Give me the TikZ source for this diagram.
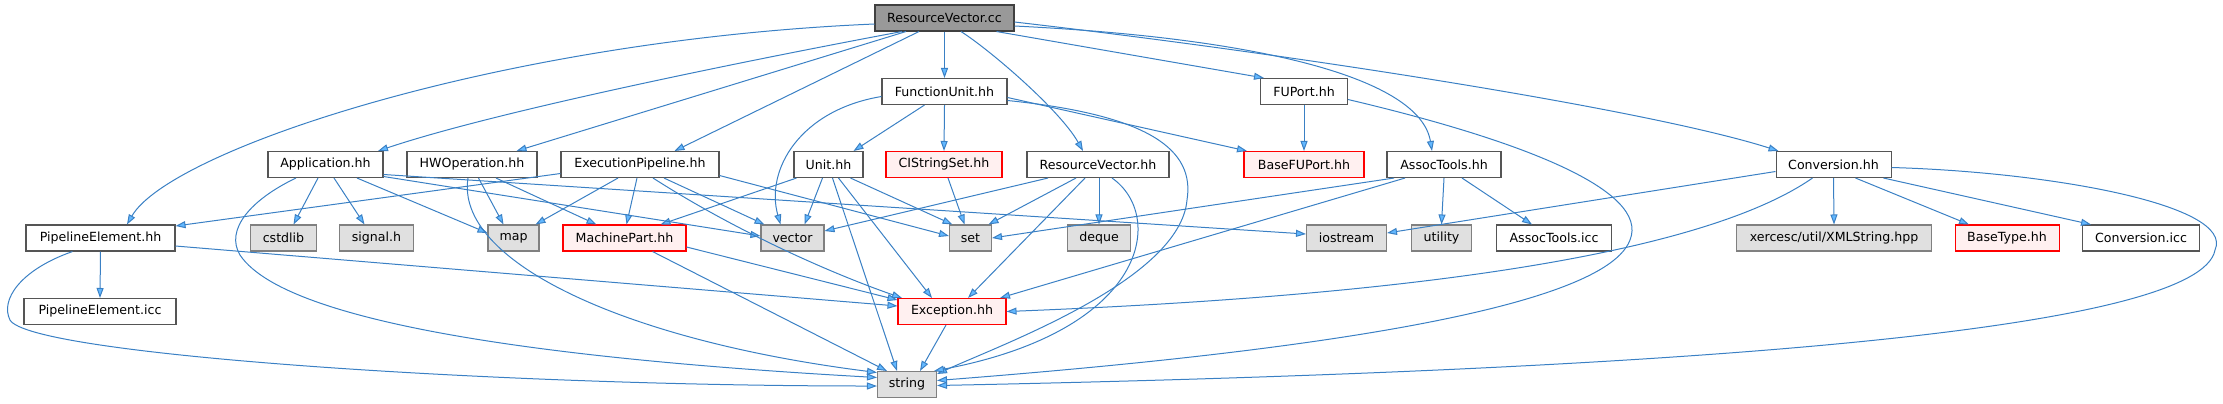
\documentclass[tikz,border=0pt]{standalone}
\usepackage{fontspec}
\setmainfont{DejaVu Sans}
\usetikzlibrary{arrows.meta}
\definecolor{edgec}{HTML}{3A80C4}
\definecolor{arrf}{HTML}{63B8FF}
\definecolor{nbord}{HTML}{555555}
\definecolor{sysfill}{HTML}{E0E0E0}
\definecolor{sysbord}{HTML}{808080}
\definecolor{redfill}{HTML}{FFF0F0}
\definecolor{rootfill}{HTML}{999999}
\definecolor{rootbord}{HTML}{404040}
\tikzset{
 box/.style={draw=nbord, fill=white, line width=1.05bp, minimum height=26bp, inner sep=0pt, font=\fontsize{12.6bp}{15bp}\selectfont, text=black},
 rootbox/.style={box, fill=rootfill, draw=rootbord},
 sysbox/.style={box, fill=sysfill, draw=sysbord},
 redbox/.style={box, fill=redfill, draw=red},
 dep/.style={draw=edgec, line width=1bp, -{Triangle[length=10bp,width=7bp,fill=arrf]}},
}
\begin{document}
\begin{tikzpicture}[x=1bp,y=-1bp]
\useasboundingbox (0,0) rectangle (2223,403);
% row 0
\node[rootbox, minimum width=139bp] (rvcc) at (944.5,18) {ResourceVector.cc};
% row 1
\node[box, minimum width=125bp] (fu) at (944.5,91.5) {FunctionUnit.hh};
\node[box, minimum width=87bp] (fuport) at (1304,91.5) {FUPort.hh};
% row 2
\node[box, minimum width=115bp] (app) at (325.5,164.5) {Application.hh};
\node[box, minimum width=130bp] (hwop) at (472,164.5) {HWOperation.hh};
\node[box, minimum width=158bp] (exp) at (640,164.5) {ExecutionPipeline.hh};
\node[box, minimum width=69bp] (unit) at (828.5,164.5) {Unit.hh};
\node[redbox, minimum width=116bp] (cis) at (944,164.5) {CIStringSet.hh};
\node[box, minimum width=142bp] (rvhh) at (1098,164.5) {ResourceVector.hh};
\node[redbox, minimum width=120bp] (bfup) at (1304,164.5) {BaseFUPort.hh};
\node[box, minimum width=114bp] (assoc) at (1444,164.5) {AssocTools.hh};
\node[box, minimum width=115bp] (conv) at (1833.5,164.5) {Conversion.hh};
% row 3
\node[box, minimum width=149bp] (pe) at (100.5,238) {PipelineElement.hh};
\node[sysbox, minimum width=65.5bp] (cstd) at (283.5,238) {cstdlib};
\node[sysbox, minimum width=74bp] (sig) at (376.5,238) {signal.h};
\node[sysbox, minimum width=51bp] (map) at (513.5,238) {map};
\node[redbox, minimum width=123bp] (mp) at (624.5,238) {MachinePart.hh};
\node[sysbox, minimum width=63bp] (vec) at (792.5,238) {vector};
\node[sysbox, minimum width=42bp] (set) at (970.5,238) {set};
\node[sysbox, minimum width=63.5bp] (deque) at (1099,238) {deque};
\node[sysbox, minimum width=80bp] (ios) at (1346.5,238) {iostream};
\node[sysbox, minimum width=60bp] (util) at (1441.5,238) {utility};
\node[box, minimum width=114.5bp] (aicc) at (1554,238) {AssocTools.icc};
\node[sysbox, minimum width=195bp] (xml) at (1834,238) {xercesc/util/XMLString.hpp};
\node[redbox, minimum width=104bp] (btype) at (2007,238) {BaseType.hh};
\node[box, minimum width=117.5bp] (cicc) at (2141,238) {Conversion.icc};
% row 4
\node[box, minimum width=152bp] (peicc) at (100,311.5) {PipelineElement.icc};
\node[redbox, minimum width=108bp] (exc) at (952,311.5) {Exception.hh};
% row 5
\node[sysbox, minimum width=59bp] (str) at (907,384.5) {string};

% ResourceVector.cc
\draw[dep] ([yshift=-6bp]rvcc.west) .. controls (500,40) and (170,150) .. ([xshift=26.5bp]pe.north);
\draw[dep] ([xshift=-42.5bp]rvcc.south) .. controls (760,58) and (500,110) .. ([xshift=52.5bp]app.north);
\draw[dep] ([xshift=-38.5bp]rvcc.south) -- ([xshift=44.5bp]hwop.north);
\draw[dep] ([xshift=-25.5bp]rvcc.south) -- ([xshift=34.5bp]exp.north);
\draw[dep] (rvcc.south) -- (fu.north);
\draw[dep] ([xshift=16.5bp]rvcc.south) .. controls (990,50) and (1060,110) .. ([xshift=-15bp]rvhh.north);
\draw[dep] ([xshift=52bp]rvcc.south) -- ([xshift=-40bp]fuport.north);
\draw[dep] ([yshift=-8bp]rvcc.east) .. controls (1260,38) and (1420,78) .. ([xshift=-12bp]assoc.north);
\draw[dep] ([yshift=-4bp]rvcc.east) .. controls (1300,55) and (1650,110) .. ([xshift=-55bp]conv.north);
% FunctionUnit.hh
\draw[dep] ([xshift=-20bp]fu.south) -- ([xshift=25bp]unit.north);
\draw[dep] (fu.south) -- (cis.north);
\draw[dep] ([yshift=-6bp]fu.east) -- ([xshift=-57bp]bfup.north);
\draw[dep] ([yshift=-9bp]fu.east) .. controls (1150,115) and (1195,150) .. (1187,200) .. controls (1180,280) and (1000,345) .. ([yshift=10.5bp]str.east);
\draw[dep] ([yshift=-5bp]fu.west) .. controls (800,110) and (765,170) .. ([xshift=-12bp]vec.north);
% FUPort.hh
\draw[dep] (fuport.south) -- (bfup.north);
\draw[dep] ([yshift=-8bp]fuport.east) .. controls (1520,140) and (1650,190) .. (1630,240) .. controls (1600,320) and (1200,360) .. ([yshift=4bp]str.east);
% Unit.hh
\draw[dep] ([xshift=-32bp]unit.south) -- ([xshift=36bp]mp.north);
\draw[dep] ([xshift=-6bp]unit.south) -- ([xshift=12bp]vec.north);
\draw[dep] ([xshift=22bp]unit.south) -- ([xshift=-18bp]set.north);
\draw[dep] ([xshift=10bp]unit.south) -- ([xshift=-20bp]exc.north);
\draw[dep] ([xshift=4bp]unit.south) -- ([xshift=-10bp]str.north);
% CIStringSet.hh
\draw[dep] ([xshift=4bp]cis.south) -- ([xshift=-6bp]set.north);
% ResourceVector.hh
\draw[dep] ([xshift=-50bp]rvhh.south) -- ([yshift=7bp]vec.east);
\draw[dep] ([xshift=-22bp]rvhh.south) -- ([xshift=18bp]set.north);
\draw[dep] ([xshift=1bp]rvhh.south) -- (deque.north);
\draw[dep] ([xshift=-13bp]rvhh.south) -- ([xshift=16bp]exc.north);
\draw[dep] ([xshift=14bp]rvhh.south) .. controls (1165,215) and (1150,330) .. ([xshift=27bp]str.north);
% AssocTools.hh
\draw[dep] ([xshift=-50bp]assoc.south) -- (set.east);
\draw[dep] ([xshift=-39bp]assoc.south) -- ([xshift=48bp]exc.north);
\draw[dep] (assoc.south) -- (util.north);
\draw[dep] ([xshift=18bp]assoc.south) -- ([xshift=-22bp]aicc.north);
% Conversion.hh
\draw[dep] ([yshift=-7bp]conv.west) -- ([yshift=5bp]ios.east);
\draw[dep] ([xshift=-21bp]conv.south) .. controls (1680,270) and (1300,300) .. (exc.east);
\draw[dep] (conv.south) -- (xml.north);
\draw[dep] ([xshift=22bp]conv.south) -- ([xshift=-38bp]btype.north);
\draw[dep] ([xshift=50bp]conv.south) -- ([xshift=-50bp]cicc.north);
\draw[dep] ([yshift=-3bp]conv.east) .. controls (2050,172) and (2235,205) .. (2215,250) .. controls (2200,330) and (1700,370) .. ([yshift=-1bp]str.east);
% Exception.hh
\draw[dep] ([xshift=-6bp]exc.south) -- ([xshift=13bp]str.north);
% PipelineElement.hh
\draw[dep] (pe.south) -- (peicc.north);
\draw[dep] ([yshift=-8bp]pe.east) -- ([yshift=5.5bp]exc.west);
\draw[dep] ([xshift=-28bp]pe.south) .. controls (20,270) and (0,300) .. (10,320) .. controls (30,355) and (500,386) .. ([yshift=-1.5bp]str.west);
% Application.hh
\draw[dep] ([xshift=-7.5bp]app.south) -- ([xshift=10bp]cstd.north);
\draw[dep] ([xshift=8.5bp]app.south) -- ([xshift=-12bp]sig.north);
\draw[dep] ([xshift=31.5bp]app.south) -- ([yshift=5bp]map.west);
\draw[dep] ([xshift=-29.5bp]app.south) .. controls (250,200) and (225,230) .. (240,255) .. controls (290,330) and (600,362) .. ([yshift=7bp]str.west);
\draw[dep] ([yshift=-10bp]app.east) -- ([yshift=4bp]ios.west);
\draw[dep] ([yshift=-12bp]app.east) -- ([yshift=2bp]vec.west);
% HWOperation.hh
\draw[dep] ([xshift=6.5bp]hwop.south) -- ([xshift=-10bp]map.north);
\draw[dep] ([xshift=24bp]hwop.south) -- ([xshift=-28bp]mp.north);
\draw[dep] ([xshift=-4bp]hwop.south) .. controls (455,260) and (620,340) .. ([yshift=12bp]str.west);
% ExecutionPipeline.hh
\draw[dep] ([yshift=-9bp]exp.west) -- ([yshift=12bp]pe.east);
\draw[dep] ([xshift=-22bp]exp.south) -- ([xshift=22bp]map.north);
\draw[dep] ([xshift=-3bp]exp.south) -- ([xshift=2bp]mp.north);
\draw[dep] ([xshift=24bp]exp.south) -- ([xshift=-28bp]vec.north);
\draw[dep] ([xshift=13bp]exp.south) .. controls (750,240) and (850,280) .. ([xshift=-50bp]exc.north);
\draw[dep] ([yshift=-11bp]exp.east) -- ([yshift=2bp]set.west);
% MachinePart.hh
\draw[dep] ([yshift=-9bp]mp.east) -- ([yshift=11.5bp]exc.west);
\draw[dep] ([xshift=28bp]mp.south) -- ([xshift=-20bp]str.north);
\end{tikzpicture}
\end{document}
